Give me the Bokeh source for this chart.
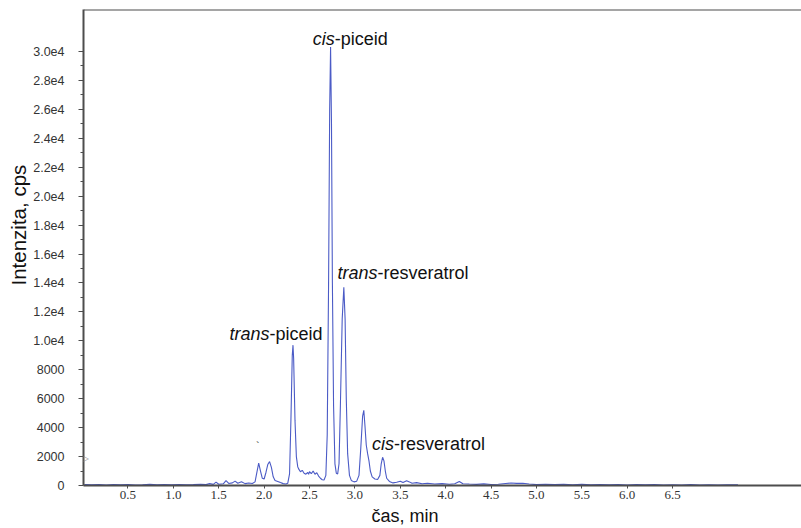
import numpy as np
from bokeh.plotting import figure
from bokeh.models import Range1d, FixedTicker, Label, Span, Title
from bokeh.core.properties import value
from bokeh.embed import file_html
from bokeh.resources import INLINE

# Chromatogram trace: retention time (min) and signal (cps)
time_min = [
    0.02, 0.10, 0.18, 0.26, 0.34, 0.42, 0.50, 0.58, 0.66, 0.74, 0.82, 0.90, 0.98,
    1.06, 1.14, 1.22, 1.30, 1.36, 1.40, 1.44, 1.47, 1.50, 1.55, 1.58, 1.61, 1.65,
    1.68, 1.71, 1.75, 1.79, 1.83, 1.87, 1.90, 1.92, 1.94, 1.96, 1.98, 2.00, 2.02,
    2.04, 2.06, 2.08, 2.10, 2.12, 2.15, 2.18, 2.21, 2.24, 2.26, 2.28, 2.295, 2.31,
    2.318, 2.325, 2.34, 2.355, 2.37, 2.38, 2.40, 2.42, 2.44, 2.46, 2.48, 2.49, 2.50,
    2.52, 2.54, 2.56, 2.58, 2.60, 2.62, 2.64, 2.66, 2.68, 2.695, 2.71, 2.722, 2.732,
    2.742, 2.752, 2.765, 2.78, 2.795, 2.81, 2.825, 2.84, 2.86, 2.878, 2.892, 2.905,
    2.92, 2.94, 2.96, 2.99, 3.02, 3.045, 3.065, 3.085, 3.098, 3.11, 3.125, 3.14,
    3.155, 3.17, 3.19, 3.22, 3.25, 3.275, 3.29, 3.305, 3.32, 3.335, 3.35, 3.38,
    3.42, 3.46, 3.50, 3.53, 3.57, 3.60, 3.63, 3.68, 3.74, 3.80, 3.88, 3.96, 4.04,
    4.10, 4.15, 4.19, 4.26, 4.34, 4.42, 4.50, 4.58, 4.66, 4.72, 4.78, 4.85, 4.92,
    5.00, 5.10, 5.20, 5.30, 5.40, 5.50, 5.60, 5.70, 5.80, 5.90, 6.00, 6.10, 6.20,
    6.30, 6.40, 6.50, 6.60, 6.70, 6.80, 6.90, 7.00, 7.10, 7.22,
]
intensity_cps = [
    60, 40, 70, 30, 60, 40, 70, 30, 50, 80, 40, 60, 40,
    70, 50, 60, 90, 60, 130, 80, 230, 90, 120, 330, 140, 180,
    300, 160, 260, 130, 170, 140, 250, 900, 1550, 1000, 500, 450, 900,
    1450, 1650, 1250, 600, 350, 280, 200, 130, 100, 150, 800, 4500, 9000,
    9700, 8800, 4500, 2000, 1300, 1150, 950, 1050, 850, 780, 900, 780, 950,
    820, 1000, 780, 880, 650, 500, 400, 380, 700, 3500, 14000, 26000, 30300,
    25000, 14000, 5500, 1500, 850, 800, 1500, 5500, 11500, 13700, 11500, 6000,
    2200, 700, 350, 250, 300, 700, 2600, 4800, 5200, 4200, 2800, 2200,
    1700, 1000, 600, 450, 420, 700, 1500, 1950, 1700, 1000, 500, 280,
    180, 220, 300, 200, 330, 250, 150, 200, 120, 160, 100, 130, 90,
    120, 280, 120, 100, 80, 110, 70, 90, 140, 170, 150, 160, 100,
    60, 90, 60, 80, 50, 80, 40, 70, 40, 60, 30, 60, 40,
    60, 30, 50, 30, 60, 30, 50, 30, 50, 40,
]

# Peak labels: italic isomer prefix + compound name, anchored at the hyphen
label_prefix = ["trans", "cis", "trans", "cis"]
label_rest = ["-piceid", "-piceid", "-resveratrol", "-resveratrol"]
label_x = [2.06, 2.777, 3.248, 3.43]
label_y = [10480, 30870, 14720, 2880]

x_ticks = [0.5, 1.0, 1.5, 2.0, 2.5, 3.0, 3.5, 4.0, 4.5, 5.0, 5.5, 6.0, 6.5]
x_tick_labels = ["0.5", "1.0", "1.5", "2.0", "2.5", "3.0", "3.5", "4.0", "4.5",
                 "5.0", "5.5", "6.0", "6.5"]
y_ticks = [0, 2000, 4000, 6000, 8000, 10000, 12000, 14000, 16000, 18000,
           20000, 22000, 24000, 26000, 28000, 30000]
y_tick_labels = ["0", "2000", "4000", "6000", "8000", "1.0e4", "1.2e4", "1.4e4",
                 "1.6e4", "1.8e4", "2.0e4", "2.2e4", "2.4e4", "2.6e4", "2.8e4", "3.0e4"]
y_minor_ticks = [1000, 3000, 5000, 7000, 9000, 11000, 13000, 15000, 17000, 19000,
                 21000, 23000, 25000, 27000, 29000]

X_START, X_END = 0.01, 7.92
Y_START, Y_END = 0, 32900

FONT = "Liberation Sans"
AXIS_COLOR = "#4d4d4d"

p = figure(
    width=801, height=528,
    x_range=Range1d(X_START, X_END), y_range=Range1d(Y_START, Y_END),
    output_backend="svg", toolbar_location=None,
    min_border_left=83, min_border_right=0, min_border_top=9, min_border_bottom=43,
)
p.outline_line_color = None
p.xgrid.grid_line_color = None
p.ygrid.grid_line_color = None
p.background_fill_color = "white"
p.border_fill_color = "white"

# x axis
xa = p.xaxis[0]
xa.ticker = FixedTicker(ticks=x_ticks)
xa.major_label_overrides = {t: s for t, s in zip(x_ticks, x_tick_labels)}
xa.axis_line_color = AXIS_COLOR
xa.axis_line_width = 2
xa.major_tick_line_color = AXIS_COLOR
xa.major_tick_out = 3
xa.major_tick_in = 0
xa.minor_tick_line_color = None
xa.major_label_text_font = "Liberation Sans Narrow"
xa.major_label_text_font_size = "13px"
xa.major_label_text_color = "#333333"
xa.major_label_standoff = 2

# y axis
ya = p.yaxis[0]
ya.ticker = FixedTicker(ticks=y_ticks, minor_ticks=y_minor_ticks)
ya.major_label_overrides = {t: s for t, s in zip(y_ticks, y_tick_labels)}
ya.axis_line_color = AXIS_COLOR
ya.axis_line_width = 2
ya.major_tick_line_color = AXIS_COLOR
ya.minor_tick_line_color = AXIS_COLOR
ya.major_tick_out = 5
ya.major_tick_in = 0
ya.minor_tick_out = 3
ya.minor_tick_in = 0
ya.major_label_text_font = FONT
ya.major_label_text_font_size = "12.5px"
ya.major_label_text_color = "#333333"
ya.major_label_standoff = 14

# axis titles
p.add_layout(Title(text="\u010das, min", align="left", offset=288, standoff=5,
                   text_font=FONT, text_font_size="18px", text_font_style="normal",
                   text_color="#111111"), "below")
p.add_layout(Title(text="Intenzita, cps", align="left", offset=200, standoff=1,
                   text_font=FONT, text_font_size="20.5px", text_font_style="normal",
                   text_color="#111111"), "left")

# top frame line
p.add_layout(Span(location=Y_END, dimension="width", line_color=AXIS_COLOR, line_width=2))

# trace
p.line(time_min, intensity_cps, line_color="#4b5bc6", line_width=1.1)

# peak labels
p.text(x=label_x, y=label_y, text=label_prefix, text_align="right", text_baseline="middle",
       text_font=value(FONT), text_font_style="italic", text_font_size="18px", text_color="#111111")
p.text(x=label_x, y=label_y, text=label_rest, text_align="left", text_baseline="middle",
       text_font=value(FONT), text_font_size="18px", text_color="#111111")

# small marks near the baseline
p.add_layout(Label(x=1.93, y=2700, text="`", text_font=FONT, text_font_size="11px",
                   text_align="center", text_baseline="middle", text_color="#333333"))
p.add_layout(Label(x=0.035, y=1900, text="\u25b7", text_font="DejaVu Sans", text_font_size="8px",
                   text_align="center", text_baseline="middle", text_color="#888888"))

open("out.html", "w").write(file_html(p, INLINE))
